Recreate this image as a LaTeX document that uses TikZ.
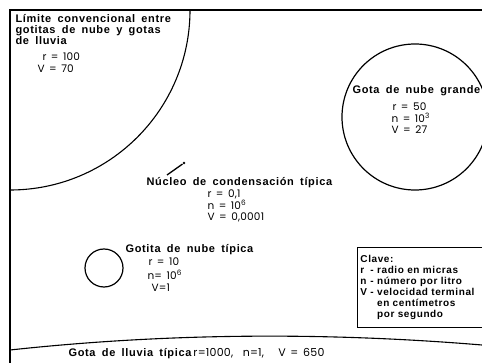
\documentclass[tikz,border=0pt]{standalone}
\usepackage{fontspec}
\setmainfont{Liberation Sans}
\newfontfamily\lblfont[LetterSpace=6,WordSpace=1.7]{Liberation Sans}
\newfontfamily\numfont[LetterSpace=2,WordSpace=1.5]{Poppins}
\usetikzlibrary{positioning}

\begin{document}
\begin{tikzpicture}[x=1pt,y=-1pt,line width=1.1pt,
  label node/.style={font=\lblfont\bfseries\fontsize{11}{11}\selectfont,inner sep=0pt,align=left},
  value node/.style={font=\numfont\fontsize{10.5}{11}\selectfont,inner sep=0pt,anchor=west},
  drop node/.style={circle,draw,inner sep=0pt,line width=1.2pt}]

 \useasboundingbox (0,0) rectangle (482,363);

 % marco y limite nube/lluvia
 \draw (482,10) -- (10,10) -- (10,363);
 \draw (190,10) arc[start angle=0,end angle=90,radius=180];

 \node[label node,anchor=north west] (limite) at (15,14) {L\'imite convencional entre\\gotitas de nube y gotas\\de lluvia};
 \node[value node] (limr) at (42,57) {r = 100};
 \node[value node] (limv) at (37,69) {V = 70};

 % gota de nube grande
 \node[drop node,minimum size=146pt] (grande) at (415,117) {};
 \node[label node,anchor=west] (grandet) at (352,91) {Gota de nube grande};
 \node[value node] (grr) at (392,107) {r = 50};
 \node[value node] (grn) at (391,118) {n = 10\textsuperscript{3}};
 \node[value node] (grv) at (391,130) {V = 27};

 % nucleo de condensacion
 \node[circle,fill,inner sep=0.9pt] (nucleo) at (184,163) {};
 \coordinate (nucleoc) at (167,175);
 \draw[line width=1.3pt] (nucleoc) -- (nucleo);
 \node[label node,anchor=west] (nucleot) at (146,183) {N\'ucleo de condensaci\'on t\'ipica};
 \node[value node] (nur) at (207,194) {r = 0,1};
 \node[value node] (nun) at (207,205) {n = 10\textsuperscript{6}};
 \node[value node] (nuv) at (207,217) {V = 0,0001};

 % gotita de nube
 \node[drop node,minimum size=38pt] (gotita) at (104,268) {};
 \node[label node,anchor=west] (gotitat) at (125,250) {Gotita de nube t\'ipica};
 \node[value node] (gor) at (148,262) {r = 10};
 \node[value node] (gon) at (147,275) {n= 10\textsuperscript{6}};
 \node[value node] (gov) at (151,288) {V=1};

 % clave
 \node[draw,line width=0.9pt,anchor=north west,text width=120pt,minimum height=80pt,
   inner sep=3pt,align=left,font=\lblfont\bfseries\fontsize{10}{12}\selectfont] (clave) at (357,247)
   {\begin{tabular}[t]{@{}l@{ - }l@{}}
    \multicolumn{2}{@{}l@{}}{Clave:}\\[-1pt]
    r & radio en micras\\[-1pt]
    n & n\'umero por litro\\[-1pt]
    V & velocidad terminal\\[-1pt]
    \multicolumn{1}{@{}l@{\hphantom{ - }}}{} & en cent\'imetros\\[-1pt]
    \multicolumn{1}{@{}l@{\hphantom{ - }}}{} & por segundo
   \end{tabular}};

 % gota de lluvia
 \draw (10,350) .. controls (167,333) and (325,332) .. (482,345);
 \node[label node,anchor=west] (lluvia) at (68,354) {Gota de lluvia t\'ipica\hspace{2pt}{\numfont\mdseries\fontsize{11}{11}\selectfont r=1000, \ n=1, \ \ V = 650}};

\end{tikzpicture}
\end{document}
